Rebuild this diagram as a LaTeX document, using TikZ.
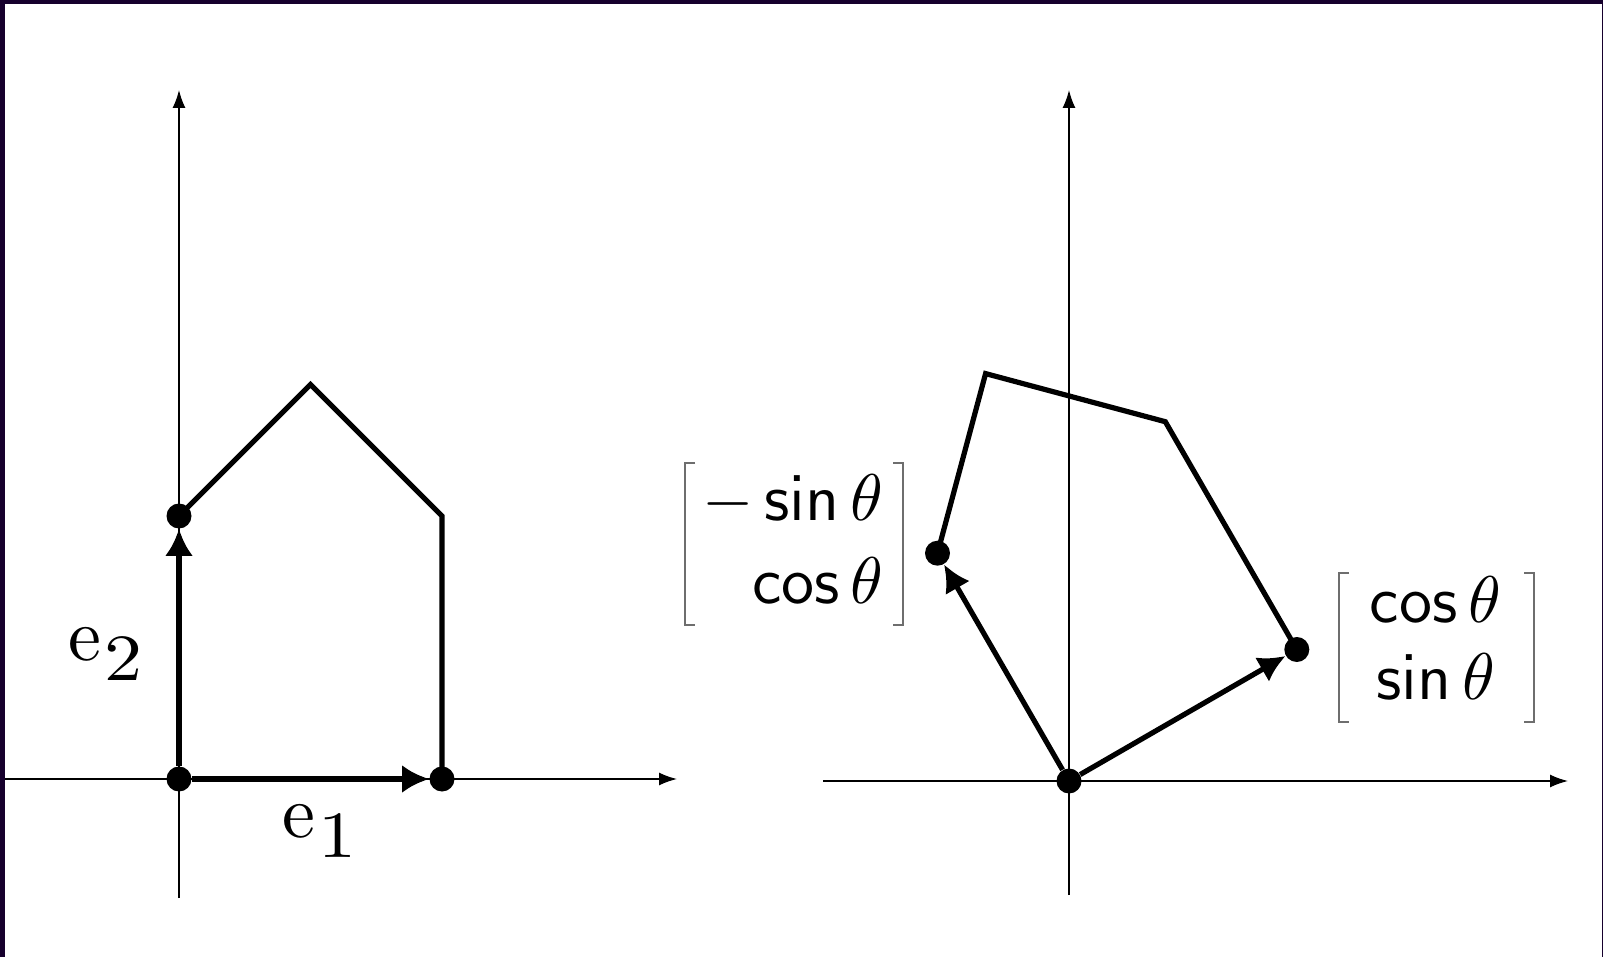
\documentclass[tikz,border=0pt]{standalone}
\usepackage{amsmath}
\usepackage{graphicx}
\usetikzlibrary{arrows.meta}
\definecolor{framecol}{RGB}{22,0,45}
\definecolor{brack}{RGB}{110,110,110}
\DeclareMathOperator{\ssin}{\mathsf{sin}}
\DeclareMathOperator{\scos}{\mathsf{cos}}
\newcommand{\evec}[1]{\scalebox{3.7}{e}\kern1.5pt\raisebox{-10pt}{\scalebox{3.8}[3.3]{#1}}}
\begin{document}
\begin{tikzpicture}[x=0.5pt,y=-0.5pt,
  axis/.style={line width=0.8pt,-{Latex[length=9pt,width=6.5pt]}},
  house/.style={line width=2.6pt,line join=miter},
  vec/.style={line width=2.6pt,-{Latex[length=13.5pt,width=14pt]}},
  dot/.style={circle,fill=black,inner sep=0pt,minimum size=12.5pt},
  brk/.style={draw=brack,line width=1.2pt},
  elbl/.style={inner sep=0pt,anchor=base west},
  lbl/.style={inner sep=0pt}]
\useasboundingbox (0,0) rectangle (1603,957);
\fill[framecol] (0,0) rectangle (1603,957);
\fill[white] (5,4) rectangle (1602,957);
% left axes
\coordinate (lxl) at (5,779);
\coordinate (lxr) at (677,779);
\coordinate (lyb) at (179,898);
\coordinate (lyt) at (179,90);
\draw[axis] (lxl) -- (lxr);
\draw[axis] (lyb) -- (lyt);
% right axes
\coordinate (rxl) at (823,781);
\coordinate (rxr) at (1568,781);
\coordinate (ryb) at (1069,895);
\coordinate (ryt) at (1069,90);
\draw[axis] (rxl) -- (rxr);
\draw[axis] (ryb) -- (ryt);
% left house
\node[dot] (lo) at (179,779) {};
\node[dot] (la1) at (442,779) {};
\node[dot] (la2) at (179,516) {};
\coordinate (lpk) at (310.5,384.5);
\coordinate (lc) at (442,516);
\draw[house] (la2.center) -- (lpk) -- (lc) -- (la1.center);
\draw[vec] (lo) -- (la1);
\draw[vec] (lo) -- (la2);
% right house
\node[dot] (ro) at (1069,781) {};
\node[dot] (ra1) at (1296.8,649.5) {};
\node[dot] (ra2) at (937.5,553.2) {};
\coordinate (rpk) at (985.6,373.6);
\coordinate (rc) at (1165.3,421.7);
\draw[house] (ra2.center) -- (rpk) -- (rc) -- (ra1.center);
\draw[vec] (ro) -- (ra1);
\draw[vec] (ro) -- (ra2);
% labels
\node[elbl] (e2l) at (68,660) {\evec{2}};
\node[elbl] (e1l) at (282,837) {\evec{1}};
\node[lbl] (m1) at (793,545) {\scalebox{3.3}{\fontsize{10}{12.58}\selectfont$\begin{array}{@{}r@{}}-\ssin\theta\\ \scos\theta\end{array}$}};
\draw[brk] (695,463) -- (685,463) -- (685,625) -- (695,625);
\draw[brk] (893,463) -- (903,463) -- (903,625) -- (893,625);
\node[lbl] (m2) at (1435.5,646) {\scalebox{3.3}{\fontsize{10}{11.67}\selectfont$\begin{array}{@{}c@{}}\scos\theta\\ \ssin\theta\end{array}$}};
\draw[brk] (1349,573) -- (1339,573) -- (1339,722) -- (1349,722);
\draw[brk] (1524,573) -- (1534,573) -- (1534,722) -- (1524,722);
\end{tikzpicture}
\end{document}
